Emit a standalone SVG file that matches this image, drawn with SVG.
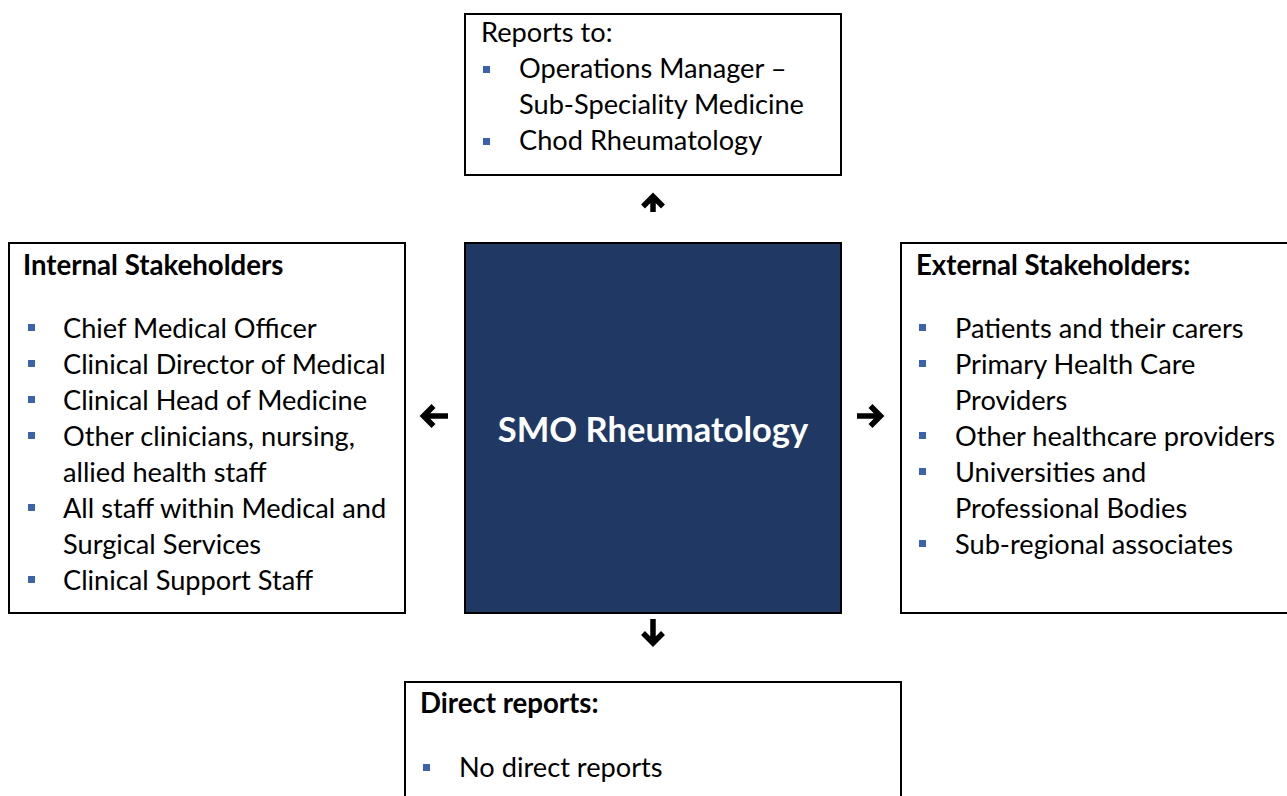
<svg xmlns="http://www.w3.org/2000/svg" width="1287" height="796" viewBox="0 0 1287 796">
<style>
.box{fill:#fff;stroke:#000;stroke-width:2}
.t{font-family:Lato,"Open Sans","Liberation Sans",sans-serif;font-size:27.2px;fill:#000}
.b{font-weight:bold;font-size:27.6px}
.bul{fill:#3B62AC}
.arr{fill:none;stroke:#000;stroke-width:5.5;stroke-linejoin:miter;stroke-linecap:butt}
</style>
<rect width="1287" height="796" fill="#fff"/>
<g id="reports-to">
<rect class="box" x="465" y="14" width="376" height="161"/>
<text class="t" x="481" y="42">Reports to:</text>
<rect class="bul" x="483" y="66" width="7" height="7"/>
<text class="t" x="519" y="78">Operations Manager –</text>
<text class="t" x="519" y="114">Sub-Speciality Medicine</text>
<rect class="bul" x="483" y="138" width="7" height="7"/>
<text class="t" x="519" y="150">Chod Rheumatology</text>
</g>
<g id="smo">
<rect x="465" y="243" width="376" height="370" fill="#203864" stroke="#000" stroke-width="2"/>
<text x="653" y="442" text-anchor="middle" font-family="Lato,'Open Sans','Liberation Sans',sans-serif" font-size="34.5" font-weight="bold" fill="#fff">SMO Rheumatology</text>
</g>
<g id="internal">
<rect class="box" x="9" y="243" width="396" height="370"/>
<text class="t b" x="23" y="275">Internal Stakeholders</text>
<rect class="bul" x="28" y="324" width="7" height="7"/>
<text class="t" x="63" y="338">Chief Medical Officer</text>
<rect class="bul" x="28" y="360" width="7" height="7"/>
<text class="t" x="63" y="374">Clinical Director of Medical</text>
<rect class="bul" x="28" y="396" width="7" height="7"/>
<text class="t" x="63" y="410">Clinical Head of Medicine</text>
<rect class="bul" x="28" y="432" width="7" height="7"/>
<text class="t" x="63" y="446">Other clinicians, nursing,</text>
<text class="t" x="63" y="482">allied health staff</text>
<rect class="bul" x="28" y="504" width="7" height="7"/>
<text class="t" x="63" y="518">All staff within Medical and</text>
<text class="t" x="63" y="554">Surgical Services</text>
<rect class="bul" x="28" y="576" width="7" height="7"/>
<text class="t" x="63" y="590">Clinical Support Staff</text>
</g>
<g id="external">
<rect class="box" x="901" y="243" width="400" height="370"/>
<text class="t b" x="916" y="275">External Stakeholders:</text>
<rect class="bul" x="919" y="324" width="7" height="7"/>
<text class="t" x="955" y="338">Patients and their carers</text>
<rect class="bul" x="919" y="360" width="7" height="7"/>
<text class="t" x="955" y="374">Primary Health Care</text>
<text class="t" x="955" y="410">Providers</text>
<rect class="bul" x="919" y="432" width="7" height="7"/>
<text class="t" x="955" y="446">Other healthcare providers</text>
<rect class="bul" x="919" y="468" width="7" height="7"/>
<text class="t" x="955" y="482">Universities and</text>
<text class="t" x="955" y="518">Professional Bodies</text>
<rect class="bul" x="919" y="540" width="7" height="7"/>
<text class="t" x="955" y="554">Sub-regional associates</text>
</g>
<g id="direct">
<rect class="box" x="405" y="682" width="496" height="130"/>
<text class="t b" x="420" y="713">Direct reports:</text>
<rect class="bul" x="423" y="764" width="7" height="7"/>
<text class="t" x="459" y="777">No direct reports</text>
</g>
<g id="connectors">
<path class="arr" d="M653 212V198M643 206.5L653 196.5L663 206.5"/>
<path class="arr" d="M448 416H425M433.5 406L423.5 416L433.5 426"/>
<path class="arr" d="M857 416H880M870.5 406L880.5 416L870.5 426"/>
<path class="arr" d="M653 619V642M643 633L653 643L663 633"/>
</g>
</svg>
